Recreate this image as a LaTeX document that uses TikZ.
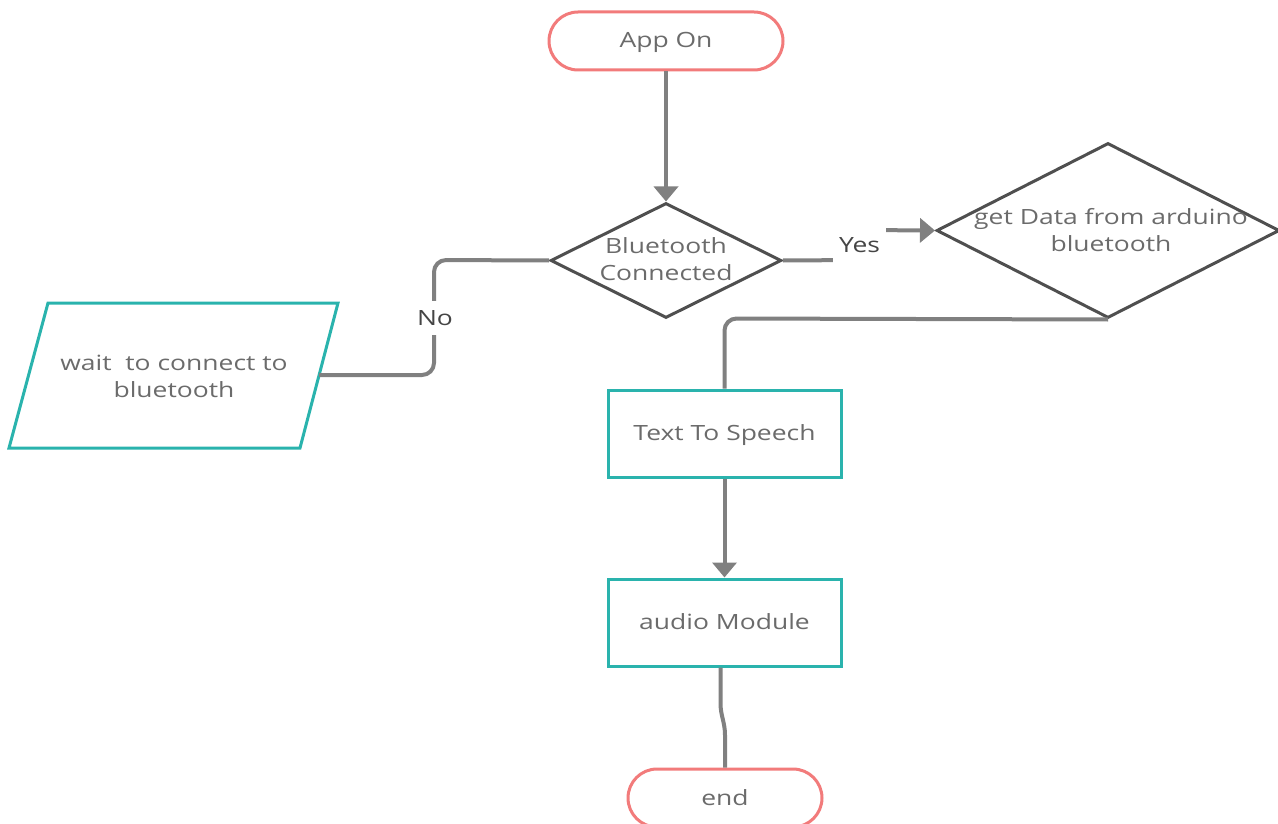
\documentclass[tikz,border=0pt]{standalone}
\usepackage{fontspec}
\setmainfont{Open Sans}[FakeStretch=1.26]
\usetikzlibrary{arrows.meta,shapes.geometric}
\definecolor{termred}{HTML}{F27B7B}
\definecolor{procteal}{HTML}{2AB3AD}
\definecolor{decgray}{HTML}{4F4F4F}
\definecolor{linkgray}{HTML}{808080}
\definecolor{textgray}{HTML}{6B6B6B}
\definecolor{labelgray}{HTML}{454545}
\begin{document}
\begin{tikzpicture}[x=1pt,y=-1pt,
  every node/.style={font=\fontsize{21}{27}\selectfont, text=textgray, align=center},
  oneline/.style={text height=15pt, text depth=1pt},
  terminal/.style={oneline, draw=termred, line width=3pt, rounded corners=29pt,
    minimum width=234pt, minimum height=58pt, fill=white},
  process/.style={oneline, draw=procteal, line width=3pt, minimum width=233pt,
    minimum height=87pt, fill=white},
  decision/.style={draw=decgray, line width=3pt, shape=diamond, inner sep=0pt},
  iobox/.style={draw=procteal, line width=3pt, line join=miter},
  link/.style={draw=linkgray, line width=4pt},
  arrowlink/.style={link, -{Triangle[width=24pt,length=15pt]}},
  lbl/.style={fill=white, text=labelgray, inner sep=0pt},
]
\useasboundingbox (0,0) rectangle (1278,824);

% start / end terminals
\node[terminal] (start) at (666,41) {App On};
\node[terminal, minimum width=194pt] (stop) at (725,798) {end};

% decisions
\node[decision, minimum width=231pt, minimum height=115pt] (d1) at (666,260.5) {};
\node at (666,259) {Bluetooth\\Connected};
\node[decision, minimum width=343pt, minimum height=175pt] (d2) at (1108,230.5) {};
\node at (1111,230) {get Data from arduino\\bluetooth};

% input / output parallelogram
\draw[iobox] (48,303) -- (338,303) -- (300,448) -- (9,448) -- cycle;
\node (wait) at (174,376) {wait~ to connect to\\bluetooth};
\coordinate (waitR) at (319,375);

% processes
\node[process] (tts) at (724.5,433.5) {Text To Speech};
\node[process] (audio) at (724.5,622.5) {audio Module};

% connectors
\draw[arrowlink] (start.south) -- (d1.north);
\draw[link] (d1.east) -- (860,260) -- (860,230);
\draw[arrowlink] (860,230) -- (d2.west);
\node[lbl, minimum width=53pt, minimum height=36pt] (yes) at (859.5,245.5) {Yes};

\draw[link, rounded corners=12pt] (d1.west) -- (434,260) -- (434,375) -- (waitR);
\node[lbl, minimum width=34pt, minimum height=34pt] (no) at (435,318) {No};

\draw[link, rounded corners=12pt] (d2.south) -- (724.5,318.5) -- (tts.north);
\draw[arrowlink] (tts.south) -- (audio.north);
\draw[link] ([xshift=-4pt]audio.south) -- (720.5,703)
  .. controls (720.5,716) and (725,722) .. (725,735) -- (stop.north);
\end{tikzpicture}
\end{document}
